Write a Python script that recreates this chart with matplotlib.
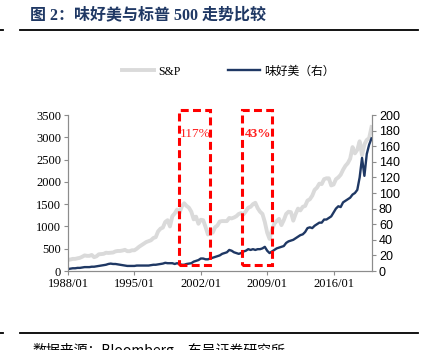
import numpy as np
import matplotlib
matplotlib.use("Agg")
import matplotlib.pyplot as plt
from matplotlib.patches import Rectangle
from matplotlib.lines import Line2D

# quarterly observations, 1988Q1 .. 2020Q1
start_year = 1988
sp500 = [
    250, 258, 272, 272,
    285, 295, 320, 350,
    340, 340, 360, 310,
    330, 375, 380, 385,
    410, 405, 410, 415,
    440, 450, 450, 460,
    475, 445, 445, 465,
    465, 500, 545, 580,
    615, 650, 670, 690,
    740, 760, 890, 950,
    975, 1100, 1140, 1000,
    1230, 1290, 1380, 1300,
    1450, 1520, 1460, 1420,
    1330, 1160, 1220, 1060,
    1150, 1140, 990, 820,
    880, 860, 980, 1020,
    1110, 1120, 1120, 1120,
    1190, 1180, 1200, 1230,
    1280, 1300, 1270, 1340,
    1420, 1440, 1500, 1530,
    1410, 1330, 1280, 1100,
    860, 720, 920, 1060,
    1120, 1170, 1030, 1140,
    1280, 1330, 1320, 1130,
    1280, 1400, 1360, 1440,
    1460, 1580, 1610, 1690,
    1820, 1870, 1960, 1950,
    2060, 2080, 2080, 1920,
    1940, 2060, 2100, 2160,
    2270, 2360, 2420, 2520,
    2780, 2640, 2720, 2910,
    2600, 2840, 2940, 2980,
    3230,
]
mkc = [
    2.5, 3, 3.5, 3.5,
    4, 4, 4.5, 5,
    5, 5, 5.5, 5.5,
    6, 6.5, 7, 7.5,
    8, 9, 9.5, 9,
    9, 8.5, 8, 7.5,
    7, 6.5, 6.5, 6.5,
    6.5, 7, 7, 7,
    7, 7, 7, 7.5,
    8, 8, 8.5, 9,
    9.5, 10.5, 10, 10,
    10, 9, 10, 9,
    8, 8, 9, 9.5,
    10, 12, 13, 14,
    16, 16, 15, 15,
    16, 17, 18, 19,
    20, 22, 23, 24,
    27, 26, 24, 23,
    22, 23, 25, 26,
    28, 27, 28, 27,
    28, 28, 29, 31,
    26, 23, 25, 27,
    29, 30, 31, 32,
    36, 38, 39, 40,
    42, 44, 46, 47,
    50, 55, 56, 55,
    58, 60, 62, 62,
    66, 66, 68, 70,
    75, 80, 83, 82,
    88, 90, 92, 94,
    98, 100, 104, 120,
    145, 122, 150, 162,
    170,
]
x_ticks = [1988, 1995, 2002, 2009, 2016]
x_tick_labels = ["1988/01", "1995/01", "2002/01", "2009/01", "2016/01"]
boxes = [(1999.7, 2002.95, "117%", "normal"), (2006.3, 2009.5, "43%", "bold")]

years = start_year + np.arange(len(sp500)) * 0.25

serif = ["Liberation Serif", "Noto Sans CJK SC"]
cjk = ["Noto Sans CJK SC", "Liberation Serif"]
navy = "#1F3864"
grey = "#DADADA"
spine_c = "#8C8C8C"

fig = plt.figure(figsize=(4.23, 3.5), dpi=100)
ax = fig.add_axes([0.1608, 0.2257, 0.7186, 0.4457])
ax2 = ax.twinx()

ax.plot(years, sp500, color=grey, lw=2.8)
ax2.plot(years, mkc, color=navy, lw=1.7)

ax.set_xlim(1988, 2020.05)
ax.set_ylim(0, 3500)
ax2.set_ylim(0, 200)
ax.set_yticks(np.arange(0, 3501, 500))
ax2.set_yticks(np.arange(0, 201, 20))
ax.set_xticks(x_ticks)
ax.set_xticklabels(x_tick_labels)

for a in (ax, ax2):
    a.spines["top"].set_visible(False)
    for s in ("left", "right", "bottom"):
        a.spines[s].set_color(spine_c)
        a.spines[s].set_linewidth(0.8)
    a.tick_params(length=3, width=0.8, color=spine_c, pad=2)
ax.tick_params(axis="x", labelsize=9)
ax.tick_params(axis="y", labelsize=9)
for lab in ax.get_xticklabels() + ax.get_yticklabels():
    lab.set_family(serif)
ax2.tick_params(axis="y", labelsize=9)
for lab in ax2.get_yticklabels():
    lab.set_family("Liberation Sans")

# dashed red boxes
for x0, x1, txt, wt in boxes:
    r = Rectangle((x0, 7.5), x1 - x0, 199, fill=False, edgecolor="#FF0000",
                  lw=2.2, linestyle=(0, (2.6, 1.4)), clip_on=False, zorder=5)
    ax2.add_patch(r)
    ax2.text((x0 + x1) / 2 + 0.1, 175.5, txt, color="#FF2020", fontsize=9.5,
             fontweight=wt, family=serif, ha="center", va="center", zorder=6)

# legend
handles = [Line2D([], [], color=grey, lw=2.8), Line2D([], [], color=navy, lw=1.7)]
leg = fig.legend(handles, ["S&P", "味好美（右）"], loc="center",
                 bbox_to_anchor=(0.54, 0.797), ncol=2, frameon=False,
                 handlelength=2.7, columnspacing=4.0, handletextpad=0.4,
                 prop={"family": serif, "size": 8.5})
leg.get_texts()[1].set_family(cjk)

# header / footer
fig.text(0.071, 0.957, "图 2：味好美与标普 500 走势比较", fontsize=11.5,
         fontweight="bold", color=navy, family=serif, va="center")
fig.add_artist(Line2D([0.047, 0.988], [0.914, 0.914], color="black", lw=1.3))
fig.add_artist(Line2D([0.0, 0.008], [0.914, 0.914], color="black", lw=1.3))
fig.add_artist(Line2D([0.047, 0.988], [0.049, 0.049], color="black", lw=1.3))
fig.add_artist(Line2D([0.0, 0.008], [0.049, 0.049], color="black", lw=1.3))
fig.text(0.076, 0.02, "数据来源：Bloomberg，东吴证券研究所", fontsize=10,
         family=cjk, va="top")

fig.savefig("out.png", dpi=100, facecolor="white")
